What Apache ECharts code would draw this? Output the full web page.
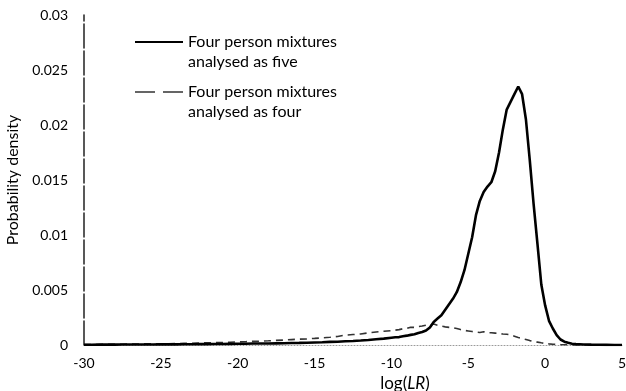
<!DOCTYPE html>
<html>
<head>
<meta charset="utf-8">
<script src="https://cdn.jsdelivr.net/npm/echarts@6/dist/echarts.min.js"></script>
<style>
  html, body { margin: 0; padding: 0; background: #fff; }
  #chart { width: 626px; height: 391px; }
</style>
</head>
<body>
<div id="chart"></div>
<script>
// log(LR) grid points
const logLR = [
  -30, -29.5, -29, -28.5, -28, -27.5, -27, -26.5, -26, -25.5,
  -25, -24.5, -24, -23.5, -23, -22.5, -22, -21.5, -21, -20.5,
  -20, -19.5, -19, -18.5, -18, -17.5, -17, -16.5, -16, -15.5,
  -15, -14.5, -14, -13.5, -13, -12.5, -12, -11.5, -11, -10.5,
  -10, -9.75, -9.5, -9.25, -9, -8.75, -8.5, -8.25, -8, -7.75,
  -7.5, -7.25, -7, -6.75, -6.5, -6.25, -6, -5.75, -5.5, -5.25,
  -5, -4.75, -4.5, -4.25, -4, -3.75, -3.5, -3.25, -3, -2.75,
  -2.5, -2.25, -2, -1.75, -1.5, -1.25, -1, -0.75, -0.5, -0.25,
  0, 0.25, 0.5, 0.75, 1, 1.25, 1.5, 1.75, 2,
  2.5, 3, 3.5, 4, 4.5, 5
];

// Density: four person mixtures analysed as five
const densityAsFive = [
  0.00002, 0.00002, 0.00003, 0.00003, 0.00003, 0.00004, 0.00004, 0.00004, 0.00005, 0.00005,
  0.00006, 0.00006, 0.00006, 0.00007, 0.00007, 0.00008, 0.00008, 0.00009, 0.00009, 0.0001,
  0.00011, 0.00012, 0.00013, 0.00013, 0.00014, 0.00015, 0.00016, 0.00018, 0.00019, 0.00021,
  0.00023, 0.00025, 0.00028, 0.0003, 0.00034, 0.00037, 0.00041, 0.00046, 0.00052, 0.00058,
  0.00066, 0.0007, 0.00072, 0.0008, 0.00085, 0.00092, 0.00098, 0.0011, 0.00118, 0.00132,
  0.0016, 0.0021, 0.0024, 0.0027, 0.0032, 0.0037, 0.0042, 0.0048, 0.0057, 0.0068,
  0.0083, 0.0098, 0.0118, 0.0131, 0.0139, 0.0144, 0.0148, 0.0158, 0.0175, 0.0196,
  0.0214, 0.0221, 0.0228, 0.0235, 0.0228, 0.0205, 0.0168, 0.0128, 0.0092, 0.0055,
  0.0036, 0.0022, 0.0015, 0.0009, 0.0005, 0.0003, 0.0002, 0.00012, 0.00008,
  0.00005, 0.00003, 0.00002, 0.00001, 0, 0
];

// Density: four person mixtures analysed as four
const densityAsFour = [
  0.00004, 0.00005, 0.00005, 0.00006, 0.00007, 0.00007, 0.00008, 0.00009, 0.0001, 0.0001,
  0.00011, 0.00012, 0.00013, 0.00015, 0.00016, 0.00018, 0.0002, 0.00021, 0.00023, 0.00025,
  0.00028, 0.0003, 0.00033, 0.00035, 0.00038, 0.00042, 0.00045, 0.00049, 0.00053, 0.00056,
  0.0006, 0.00065, 0.0007, 0.00078, 0.0009, 0.00095, 0.001, 0.0011, 0.00118, 0.00125,
  0.0013, 0.00135, 0.0014, 0.00148, 0.0015, 0.00162, 0.0016, 0.00168, 0.00172, 0.0018,
  0.00178, 0.0019, 0.0018, 0.00172, 0.00165, 0.0016, 0.00158, 0.0015, 0.0014, 0.00132,
  0.00128, 0.00122, 0.00118, 0.00114, 0.0012, 0.0011, 0.00112, 0.00108, 0.00104, 0.001,
  0.00098, 0.00092, 0.0008, 0.00068, 0.0006, 0.0005, 0.0004, 0.00032, 0.00026, 0.0002,
  0.00015, 0.0001, 0.00007, 0.00005, 0.00003, 0.00002, 0.00001, 0.00001, 0,
  0, 0, 0, 0, 0, 0
];

const xTicks = [-30, -25, -20, -15, -10, -5, 0, 5];
const yTicks = [0, 0.005, 0.01, 0.015, 0.02, 0.025, 0.03];

const seriesNames = [
  'Four person mixtures\nanalysed as five',
  'Four person mixtures\nanalysed as four'
];

const FONT = 'Lato, "Open Sans", sans-serif';

const chart = echarts.init(document.getElementById('chart'), null, { renderer: 'canvas' });

chart.setOption({
  animation: false,
  backgroundColor: '#ffffff',
  textStyle: { fontFamily: FONT, color: '#000' },
  grid: { left: 84, right: 4, top: 15, bottom: 46, outerBoundsMode: 'none', containLabel: false },
  legend: {
    orient: 'vertical',
    left: 134,
    top: 12,
    padding: 0,
    itemWidth: 48,
    itemHeight: 10,
    itemGap: -10,
    itemStyle: { opacity: 0 },
    data: [
      { name: seriesNames[0] },
      { name: seriesNames[1], lineStyle: { type: [20, 8], width: 1.6, color: '#333' } }
    ],
    // a blank leading line keeps the key line level with the first text line
    formatter: name => ' \n' + name,
    textStyle: {
      fontFamily: FONT,
      fontSize: 16,
      color: '#000',
      lineHeight: 20
    }
  },
  xAxis: {
    type: 'value',
    min: xTicks[0],
    max: xTicks[xTicks.length - 1],
    interval: 5,
    name: '{n|log(}{i|LR}{n|)}',
    nameLocation: 'middle',
    nameGap: 27,
    nameTextStyle: {
      padding: [0, 0, 0, 104],
      rich: {
        n: { fontFamily: FONT, fontSize: 17, color: '#000' },
        i: { fontFamily: FONT, fontSize: 17, fontStyle: 'italic', color: '#000' }
      }
    },
    axisLine: { show: true, onZero: false, lineStyle: { color: '#9a9a9a', width: 1, type: [1, 2] } },
    axisTick: { show: false },
    splitLine: { show: false },
    axisLabel: { fontFamily: FONT, fontSize: 14, color: '#000', margin: 11 }
  },
  yAxis: {
    type: 'value',
    min: yTicks[0],
    max: yTicks[yTicks.length - 1],
    interval: 0.005,
    name: 'Probability density',
    nameLocation: 'middle',
    nameGap: 54,
    nameRotate: 90,
    nameTextStyle: { fontFamily: FONT, fontSize: 16, color: '#000' },
    axisLine: { show: true, onZero: false, lineStyle: { color: '#222', width: 1.5, type: [24, 3] } },
    axisTick: { show: false },
    splitLine: { show: false },
    axisLabel: {
      fontFamily: FONT, fontSize: 14, color: '#000', margin: 16,
      formatter: v => (v === 0 ? '0' : String(+v.toFixed(3)))
    }
  },
  series: [
    {
      name: seriesNames[0],
      type: 'line',
      data: logLR.map((x, i) => [x, densityAsFive[i]]),
      showSymbol: false,
      symbol: 'none',
      lineStyle: { color: '#000', width: 2.6 },
      itemStyle: { color: '#000' },
      z: 3
    },
    {
      name: seriesNames[1],
      type: 'line',
      data: logLR.map((x, i) => [x, densityAsFour[i]]),
      showSymbol: false,
      symbol: 'none',
      lineStyle: { color: '#333', width: 1.6, type: [7, 5] },
      itemStyle: { color: '#333' },
      z: 2
    }
  ]
});
</script>
</body>
</html>
